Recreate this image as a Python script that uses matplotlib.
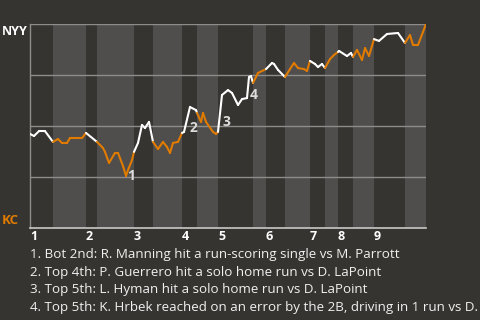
import numpy as np
import matplotlib
matplotlib.use('Agg')
import matplotlib.pyplot as plt
from matplotlib.collections import LineCollection

# win probability chart, NYY at top, KC at bottom

team_top = "NYY"
team_bottom = "KC"

# game progress position of each half-inning start, and the end of the game
half_starts = [0, 23, 56, 67, 104, 123, 152, 167, 188, 223, 236, 255, 280, 295, 308, 323, 344, 375]
game_end = 396
innings = ["1", "2", "3", "4", "5", "6", "7", "8", "9"]

# NYY win probability (%) along the game
prog = [0, 4, 9, 15, 23, 28, 32, 37, 40, 52, 56, 67, 73, 75, 79, 85, 88, 93, 96, 98,
        102, 104, 108, 112, 115, 119, 123, 128, 133, 137, 140, 143, 148, 152, 154, 160,
        166, 167, 171, 173, 176, 183, 186, 188, 192, 198, 202, 208, 212, 217, 219, 221,
        223, 228, 236, 242, 244, 248, 255, 260, 264, 268, 274, 277, 280, 285, 288, 292,
        295, 300, 304, 308, 309, 317, 321, 323, 327, 332, 335, 339, 344, 349, 357, 368,
        375, 380, 383, 388, 396]
wp = [46.1, 45.1, 47.5, 47.5, 42.2, 43.6, 41.7, 41.7, 44.1, 44.1, 46.6, 42.2, 39.2, 37.3,
      31.9, 36.8, 36.8, 30.4, 25.5, 28.4, 33.3, 37.3, 41.7, 50.5, 49.0, 52.0, 42.2, 38.7,
      42.2, 39.7, 36.8, 41.7, 42.2, 46.6, 47.1, 59.3, 57.8, 56.4, 52.0, 56.4, 52.0, 47.1,
      46.1, 47.1, 65.2, 67.6, 66.2, 60.3, 63.2, 63.7, 74.0, 74.5, 71.1, 76.0, 77.9, 80.9,
      80.4, 77.5, 74.0, 77.9, 80.9, 78.4, 77.9, 77.0, 81.9, 80.4, 78.9, 80.4, 78.4, 82.8,
      84.8, 86.3, 86.8, 84.3, 85.8, 83.8, 87.3, 82.4, 88.2, 84.3, 92.6, 91.7, 95.1, 95.6,
      90.7, 94.6, 89.7, 89.7, 100.0]

# key events: index into the series above
event_idx = [18, 34, 43, 49]
event_notes = [
    "1. Bot 2nd: R. Manning hit a run-scoring single vs M. Parrott",
    "2. Top 4th: P. Guerrero hit a solo home run vs D. LaPoint",
    "3. Top 5th: L. Hyman hit a solo home run vs D. LaPoint",
    "4. Top 5th: K. Hrbek reached on an error by the 2B, driving in 1 run vs D. LaPoint",
]

bg = '#363430'
band = '#4f4e4c'
orange = '#e07b00'
plt.rcParams['font.family'] = ['Open Sans', 'DejaVu Sans']

fig = plt.figure(figsize=(4.8, 3.2), dpi=100, facecolor=bg)
ax = fig.add_axes([30 / 480, 1 - 228 / 320, 396 / 480, 204 / 320])
ax.set_facecolor(bg)
ax.set_xlim(0, game_end)
ax.set_ylim(0, 100)

# bottom half-innings shaded
edges = half_starts + [game_end]
for i in range(1, len(half_starts), 2):
    ax.axvspan(edges[i], edges[i + 1], color=band, lw=0, zorder=0)

for g in [25, 50, 75, 100]:
    ax.axhline(g, color='#8e8c8a', lw=1, zorder=1)

for s in ['top', 'right']:
    ax.spines[s].set_visible(False)
ax.spines['left'].set_color('#8e8c8a')
ax.spines['bottom'].set_color('#c8c8c8')
ax.spines['left'].set_linewidth(1)
ax.spines['bottom'].set_linewidth(1.2)

# line colored by batting team
x = np.array(prog, dtype=float)
y = np.array(wp)
segs = np.stack([np.column_stack([x[:-1], y[:-1]]), np.column_stack([x[1:], y[1:]])], axis=1)
mids = (x[:-1] + x[1:]) / 2
half = np.searchsorted(half_starts, mids, side='right') - 1
cols = ['white' if h % 2 == 0 else orange for h in half]
lc = LineCollection(segs, colors=cols, linewidths=1.5, capstyle='round', joinstyle='round', zorder=3)
ax.add_collection(lc)

offsets = [(1, 0), (4, 3), (3, 7), (2, 2)]
for n, (i, off) in enumerate(zip(event_idx, offsets)):
    ax.annotate(str(n + 1), (prog[i], wp[i]), xytext=off, textcoords='offset points',
                ha='left', va='center', color='#dcdcdc', fontsize=10, fontweight='bold', zorder=4)

ax.set_xticks(half_starts[0::2])
ax.set_xticklabels(innings, ha='left', color='white', fontsize=9, fontweight='bold')
ax.tick_params(axis='x', length=0, pad=1.5)
ax.set_yticks([])

fig.text(2 / 480, 1 - 31.5 / 320, team_top, color='white', fontsize=9, fontweight='bold', va='center', ha='left')
fig.text(2 / 480, 1 - 221 / 320, team_bottom, color=orange, fontsize=9.5, fontweight='bold', va='center', ha='left')

for k, note in enumerate(event_notes):
    fig.text(30 / 480, 1 - (254.5 + 17.6 * k) / 320, note, color='#f0f0f0', fontsize=9.6, va='center', ha='left')

fig.savefig('out.png', dpi=100, facecolor=bg)
